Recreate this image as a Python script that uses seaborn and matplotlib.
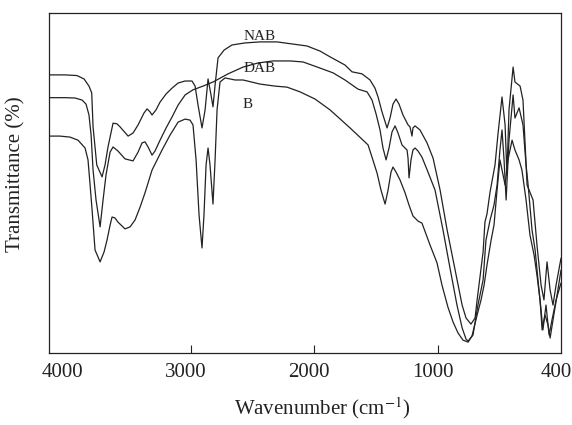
import numpy as np
import pandas as pd
import matplotlib
matplotlib.use("Agg")
import matplotlib.pyplot as plt
import matplotlib.transforms as mtransforms
import seaborn as sns

# IR spectra (wavenumber cm-1, transmittance %)
nab_wn = [4150, 4020, 3923, 3866, 3826, 3804, 3793, 3763, 3720, 3696, 3672, 3631,
          3599, 3574, 3509, 3469, 3428, 3380, 3355, 3331, 3315, 3283, 3250, 3201,
          3153, 3104, 3047, 2991, 2966, 2942, 2910, 2885, 2861, 2837, 2821, 2804,
          2780, 2731, 2667, 2561, 2440, 2302, 2180, 2059, 1953, 1872, 1751, 1694,
          1613, 1548, 1508, 1483, 1451, 1410, 1386, 1362, 1337, 1313, 1281, 1240,
          1224, 1208, 1200, 1183, 1143, 1086, 1037, 988, 954, 915, 881, 862, 838,
          818, 808, 779, 770, 760, 745, 721, 706, 687, 672, 663, 653, 633, 624,
          599, 585, 565, 536, 517, 497, 483, 468, 453, 439, 424, 400]
nab_t = [81.8, 81.8, 81.6, 80.6, 78.5, 76.5, 66.5, 55.3, 51.8, 55.3, 60.6, 67.6,
         67.4, 66.5, 63.8, 64.7, 67.1, 70.6, 71.8, 70.9, 70.0, 71.5, 73.8, 76.2,
         77.9, 79.4, 80.0, 80.0, 78.5, 72.9, 66.2, 71.5, 80.6, 75.9, 72.4, 78.8,
         86.8, 89.1, 90.6, 91.2, 91.5, 91.5, 90.9, 90.3, 88.8, 87.1, 84.7, 82.7,
         82.1, 80.3, 77.9, 75.3, 70.9, 66.2, 69.1, 73.2, 74.7, 73.2, 70.0, 67.1,
         66.5, 63.8, 66.2, 66.8, 65.6, 61.8, 57.3, 47.9, 36.2, 24.4, 14.1, 10.3, 8.5,
         10.3, 15.6, 29.7, 38.5, 40.9, 47.4, 55.3, 64.7, 75.3, 67.1, 52.4, 71.5, 84.1, 79.7,
         78.5, 74.4, 49.4, 45.0, 31.8, 20.0, 15.6, 26.8, 18.5, 14.1, 20.0, 27.9]

dab_wn = [4150, 4020, 3939, 3882, 3850, 3826, 3809, 3793, 3769, 3736, 3712, 3688,
          3655, 3631, 3591, 3534, 3469, 3428, 3396, 3372, 3347, 3315, 3291, 3250,
          3201, 3153, 3104, 3047, 2983, 2902, 2821, 2699, 2577, 2456, 2334, 2196,
          2091, 1953, 1848, 1751, 1645, 1572, 1532, 1499, 1467, 1443, 1418, 1394,
          1370, 1345, 1321, 1289, 1248, 1240, 1232, 1216, 1200, 1183, 1159, 1127,
          1078, 1021, 974, 940, 906, 881, 862, 852, 828, 804, 779, 765, 745, 726,
          711, 697, 687, 677, 667, 653, 633, 624, 604, 585, 570, 560, 541, 526,
          512, 497, 488, 473, 458, 444, 424, 400]
dab_t = [75.1, 75.1, 75.0, 74.4, 73.2, 70.0, 64.1, 53.8, 45.0, 37.1, 45.0, 52.4,
         59.1, 60.6, 59.4, 57.1, 56.5, 59.1, 61.8, 62.1, 60.6, 58.2, 59.4, 62.6,
         66.2, 69.4, 72.9, 75.9, 77.4, 78.5, 79.7, 82.1, 84.1, 85.3, 85.9, 85.9,
         85.6, 83.8, 82.4, 80.3, 77.6, 76.8, 74.4, 70.3, 65.6, 60.3, 56.8, 60.3,
         65.0, 66.8, 64.7, 61.2, 59.7, 57.3, 51.5, 56.8, 59.7, 60.3, 59.4, 57.6,
         53.2, 47.9, 36.2, 25.0, 14.1, 7.4, 4.1, 3.5, 5.3, 14.1, 21.5, 33.2, 39.1, 43.5,
         49.4, 59.7, 65.6, 56.8, 45.0, 62.6, 75.9, 69.1, 72.1, 67.1, 55.3, 49.4, 36.2, 30.3,
         21.5, 12.6, 6.8, 14.1, 5.3, 9.7, 15.6, 20.6]

b_wn = [4150, 4061, 3980, 3915, 3858, 3834, 3817, 3801, 3777, 3736, 3704, 3680,
        3655, 3639, 3615, 3591, 3534, 3493, 3453, 3412, 3372, 3315, 3234, 3169,
        3104, 3047, 3007, 2983, 2958, 2934, 2910, 2894, 2877, 2861, 2845, 2821,
        2804, 2788, 2764, 2723, 2642, 2577, 2440, 2318, 2221, 2115, 1994, 1872,
        1710, 1564, 1532, 1491, 1459, 1426, 1402, 1378, 1362, 1337, 1305, 1264,
        1232, 1200, 1159, 1127, 1062, 1005, 979, 950, 925, 901, 877, 852, 833,
        808, 789, 774, 760, 740, 726, 711, 697, 682, 672, 658, 638, 624, 604,
        590, 570, 551, 531, 517, 502, 492, 478, 463, 453, 439, 419, 400]
b_t = [63.8, 63.8, 63.5, 62.6, 60.3, 56.8, 49.4, 42.1, 30.3, 26.8, 29.7, 33.2,
       37.6, 40.0, 39.7, 38.5, 36.5, 37.1, 39.1, 42.9, 47.1, 53.8, 59.7, 64.1,
       67.9, 68.8, 68.5, 67.1, 56.8, 40.6, 30.9, 40.6, 55.3, 60.3, 55.3, 43.8,
       56.8, 71.5, 79.7, 80.9, 80.3, 80.3, 79.1, 78.5, 78.2, 76.8, 74.7, 71.5,
       66.2, 61.2, 57.6, 52.9, 47.9, 43.8, 47.9, 53.2, 54.7, 53.2, 50.9, 47.1,
       43.5, 40.3, 38.8, 38.2, 31.8, 26.5, 20.0, 13.5, 9.1, 5.9, 3.8, 3.2, 5.0,
       11.2, 15.6, 20.0, 25.9, 33.2, 37.6, 47.9, 56.8, 52.4, 49.4, 56.8, 62.6, 59.7, 56.8,
       53.8, 45.0, 34.7, 28.8, 22.9, 15.6, 6.8, 11.2, 8.2, 4.4, 9.7, 17.1, 24.4]

# curve labels: (text, wavenumber, transmittance)
curve_labels = [("NAB", 2444, 93.2), ("DAB", 2444, 83.8), ("B", 2537, 73.2)]

tick_values = [4000, 3000, 2000, 1000, 400]
tick_labels = ["4000", "3000", "2000", "1000", "400"]


# the region below 1000 cm-1 is stretched on the original axis
def fwd(w):
    w = np.asarray(w, dtype=float)
    return np.where(w >= 1000, w, 1000 - (1000 - w) * 5 / 3)


def inv(u):
    u = np.asarray(u, dtype=float)
    return np.where(u >= 1000, u, 1000 - (1000 - u) * 0.6)


sns.set_theme(style="white")
plt.rcParams["font.family"] = ["Liberation Serif", "DejaVu Serif"]
plt.rcParams["mathtext.fontset"] = "stix"
ink = "#222222"

fig = plt.figure(figsize=(5.72, 4.25), dpi=100)
ax = fig.add_axes([0.0857, 0.1694, 0.8951, 0.80])
ax.set_xscale("function", functions=(fwd, inv))

for wn, t in [(nab_wn, nab_t), (dab_wn, dab_t), (b_wn, b_t)]:
    df = pd.DataFrame({"wn": wn, "t": t})
    sns.lineplot(data=df, x="wn", y="t", ax=ax, sort=False, estimator=None,
                 color=ink, linewidth=0.9)

for text, x, y in curve_labels:
    ax.text(x, y, text, ha="center", va="center", fontsize=11, color=ink)

ax.set_xlim(4150, 400)
ax.set_ylim(0, 100)
ax.set_xticks(tick_values)
ax.set_xticklabels(tick_labels)
ax.set_yticks([])
ax.tick_params(axis="x", direction="in", length=6, width=0.8, pad=7,
               labelsize=15, colors=ink, bottom=True)
ticks = ax.xaxis.get_major_ticks()
ticks[0].tick1line.set_visible(False)
ticks[-1].tick1line.set_visible(False)
shift = mtransforms.ScaledTranslation(-0.05, 0, fig.dpi_scale_trans)
for lab in ax.get_xticklabels():
    lab.set_transform(lab.get_transform() + shift)

for side in ax.spines.values():
    side.set_color(ink)
    side.set_linewidth(0.9)

ax.set_xlabel("Wavenumber (cm$^{-1}$)", fontsize=15, color=ink, labelpad=10)
ax.xaxis.label.set_x(0.533)
ax.set_ylabel("Transmittance (%)", fontsize=15, color=ink)
ax.yaxis.set_label_coords(-0.045, 0.527)

fig.savefig("out.png", dpi=100)
